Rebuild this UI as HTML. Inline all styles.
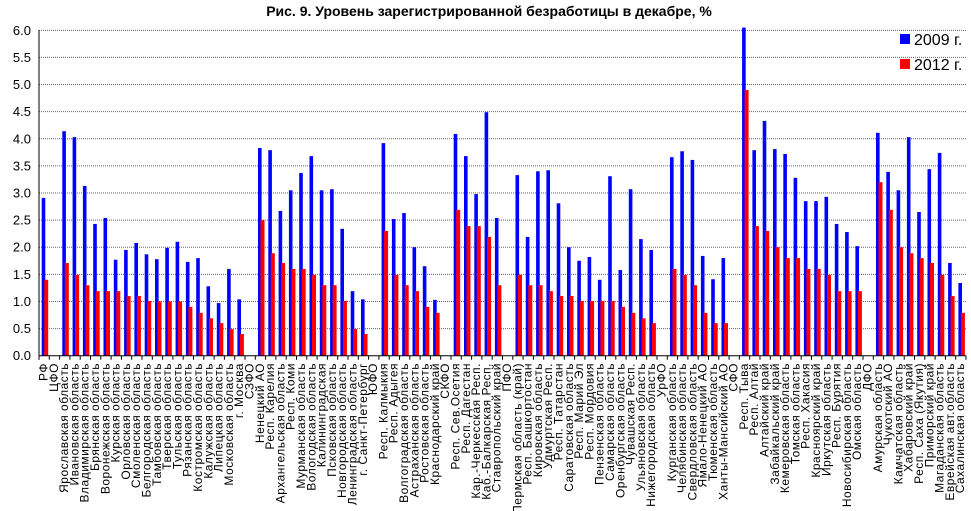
<!DOCTYPE html>
<html><head><meta charset="utf-8"><style>
html,body{margin:0;padding:0;background:#fff;}
svg{display:block;font-family:"Liberation Sans",sans-serif;}
</style></head><body>
<svg id="c" width="971" height="511" viewBox="0 0 971 511" xmlns="http://www.w3.org/2000/svg">
<text x="489" y="16" text-anchor="middle" font-size="14" font-weight="bold">Рис. 9. Уровень зарегистрированной безработицы в декабре, %</text>
</svg>
<script>
var d=[
["РФ",2.91,1.40],["ЦФО",null,null],["Ярославская область",4.14,1.71],["Ивановская область",4.03,1.49],["Владимирская область",3.13,1.30],["Брянская область",2.43,1.19],["Воронежская область",2.54,1.19],["Курская область",1.77,1.19],["Орловская область",1.95,1.10],["Смоленская область",2.08,1.10],["Белгородская область",1.87,1.01],["Тамбовская область",1.78,1.0],["Тверская область",1.99,1.0],["Тульская область",2.1,1.0],["Рязанская область",1.73,0.9],["Костромская область",1.8,0.79],["Калужская область",1.28,0.69],["Липецкая область",0.97,0.6],["Московская область",1.6,0.49],["г. Москва",1.04,0.4],["СЗФО",null,null],
["Ненецкий АО",3.83,2.5],["Респ. Карелия",3.79,1.89],["Архангельская область",2.67,1.71],["Респ. Коми",3.05,1.6],["Мурманская область",3.37,1.6],["Вологодская область",3.68,1.49],["Калининградская",3.05,1.3],["Псковская область",3.07,1.3],["Новгородская область",2.34,1.01],["Ленинградская область",1.19,0.49],["г. Санкт-Петербург",1.04,0.4],["ЮФО",null,null],
["Респ. Калмыкия",3.92,2.3],["Респ. Адыгея",2.52,1.49],["Волгоградская область",2.63,1.3],["Астраханская область",2.0,1.19],["Ростовская область",1.65,0.9],["Краснодарский край",1.03,0.79],["СКФО",null,null],
["Респ. Сев.Осетия",4.09,2.69],["Респ. Дагестан",3.68,2.39],["Кар.-Черкесская Респ.",2.98,2.39],["Каб.-Балкарская Респ.",4.49,2.19],["Ставропольский край",2.54,1.3],["ПФО",null,null],
["Пермская область (край)",3.33,1.49],["Респ. Башкортостан",2.19,1.3],["Кировская область",3.4,1.3],["Удмуртская Респ.",3.42,1.19],["Респ. Татарстан",2.81,1.1],["Саратовская область",2.0,1.1],["Респ. Марий Эл",1.75,1.01],["Респ. Мордовия",1.82,1.01],["Пензенская область",1.4,1.01],["Самарская область",3.31,1.01],["Оренбургская область",1.58,0.9],["Чувашская Респ.",3.07,0.79],["Ульяновская область",2.15,0.69],["Нижегородская область",1.95,0.6],["УрФО",null,null],
["Курганская область",3.66,1.6],["Челябинская область",3.77,1.49],["Свердловская область",3.61,1.3],["Ямало-Ненецкий АО",1.84,0.79],["Тюменская область",1.41,0.6],["Ханты-Мансийский АО",1.8,0.6],["СФО",null,null],
["Респ. Тыва",6.05,4.9],["Респ. Алтай",3.79,2.39],["Алтайский край",4.33,2.3],["Забайкальский край",3.81,2.0],["Кемеровская область",3.72,1.8],["Томская область",3.28,1.8],["Респ. Хакасия",2.85,1.6],["Красноярский край",2.85,1.6],["Иркутская область",2.93,1.49],["Респ. Бурятия",2.43,1.19],["Новосибирская область",2.28,1.19],["Омская область",2.02,1.19],["ДФО",null,null],
["Амурская область",4.11,3.2],["Чукотский АО",3.39,2.69],["Камчатская область",3.05,2.0],["Хабаровский край",4.03,1.89],["Респ. Саха (Якутия)",2.65,1.8],["Приморский край",3.44,1.71],["Магаданская область",3.74,1.49],["Еврейская авт.область",1.71,1.1],["Сахалинская область",1.34,0.79]];
var s=document.getElementById('c'),h='';
var Y0=355.7,U=54.23,X0=39,W=10.3,XR=966;
for(var i=0;i<=12;i++){var y=Y0-i*0.5*U;
 if(i>0)h+='<line x1="'+X0+'" y1="'+y+'" x2="'+XR+'" y2="'+y+'" stroke="#666" stroke-width="1" stroke-dasharray="1,1"/>';
 h+='<text x="31" y="'+(y+4.5)+'" text-anchor="end" font-size="13">'+(i*0.5).toFixed(1)+'</text>';}
for(var j=0;j<d.length;j++){var x=X0+j*W;
 if(d[j][1]!=null){var v=Math.min(d[j][1],6.05);h+='<rect x="'+(x+2.7)+'" y="'+(Y0-v*U)+'" width="3.6" height="'+(v*U)+'" fill="#0000ff"/>';}
 if(d[j][2]!=null){var r=d[j][2];h+='<rect x="'+(x+5.2)+'" y="'+(Y0-r*U)+'" width="4" height="'+(r*U)+'" fill="#ff0000"/>';}
 h+='<text transform="translate('+(x+4.5)+',363) rotate(-90)" text-anchor="end" font-size="12" letter-spacing="0.5" dy="4">'+d[j][0]+'</text>';}
for(var j=0;j<=d.length;j++){var x=X0+j*W;h+='<line x1="'+x+'" y1="'+Y0+'" x2="'+x+'" y2="'+(Y0+4)+'" stroke="#000"/>';}
h+='<line x1="'+X0+'" y1="30" x2="'+X0+'" y2="'+(Y0+4)+'" stroke="#000"/>';
h+='<line x1="'+X0+'" y1="'+Y0+'" x2="'+XR+'" y2="'+Y0+'" stroke="#000"/>';
h+='<rect x="900" y="34" width="10" height="10" fill="#0000ff"/><text x="914" y="45" font-size="16">2009 г.</text>';
h+='<rect x="900" y="59" width="10" height="10" fill="#ff0000"/><text x="914" y="70" font-size="16">2012 г.</text>';
s.innerHTML+=h;
</script>
</body></html>
